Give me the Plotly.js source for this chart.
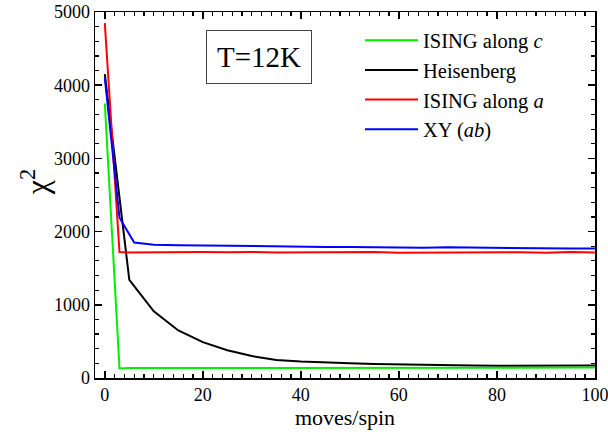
<!DOCTYPE html>
<html>
<head>
<meta charset="utf-8">
<script src="https://cdn.plot.ly/plotly-3.0.1.min.js"></script>
<style>html,body{margin:0;padding:0;background:#fff;}#chart{width:608px;height:436px;}</style>
</head>
<body>
<div id="chart"></div>
<script>
const isingCX = [0, 3, 5, 10, 15, 20, 25, 30, 35, 40, 45, 50, 55, 60, 65, 70, 75, 80, 85, 90, 95, 100];
const isingCY = [3750, 130, 135, 135, 138, 135, 138, 135, 140, 138, 135, 140, 138, 135, 138, 140, 138, 135, 138, 140, 138, 142];

const heisX = [0, 5, 10, 15, 20, 25, 30, 35, 40, 45, 50, 55, 60, 65, 70, 75, 80, 85, 90, 95, 100];
const heisY = [4150, 1340, 910, 650, 490, 380, 300, 245, 225, 210, 200, 192, 185, 180, 172, 170, 168, 168, 165, 168, 170];

const isingAX = [0, 3, 5, 10, 15, 20, 25, 30, 35, 40, 45, 50, 55, 60, 65, 70, 75, 80, 85, 90, 95, 100];
const isingAY = [4850, 1720, 1715, 1720, 1715, 1720, 1718, 1722, 1715, 1718, 1712, 1715, 1720, 1712, 1715, 1718, 1712, 1715, 1718, 1712, 1720, 1715];

const xyX = [0, 3, 6, 10, 15, 20, 25, 30, 35, 40, 45, 50, 55, 60, 65, 70, 75, 80, 85, 90, 95, 100];
const xyY = [4100, 2190, 1850, 1820, 1815, 1810, 1805, 1800, 1800, 1795, 1790, 1790, 1785, 1785, 1780, 1785, 1780, 1780, 1775, 1775, 1770, 1770];

const seriesNames = ['ISING along <i>c</i>', 'Heisenberg', 'ISING along <i>a</i>', 'XY (<i>ab</i>)'];
const seriesColors = ['#00ee00', '#000000', '#ff0000', '#0000ff'];
const xTickVals = [0, 20, 40, 60, 80, 100];
const yTickVals = [0, 1000, 2000, 3000, 4000, 5000];

const font = '"Liberation Serif", "Times New Roman", Times, serif';

const xs = [isingCX, heisX, isingAX, xyX];
const ys = [isingCY, heisY, isingAY, xyY];
const traces = xs.map((x, i) => ({
  x: x, y: ys[i], type: 'scatter', mode: 'lines', name: seriesNames[i],
  line: {color: seriesColors[i], width: 2}, legendrank: i + 1
}));
// draw blue on top of black as in reference
const data = [traces[1], traces[0], traces[2], traces[3]];

const axisCommon = {
  showgrid: false, zeroline: false, showline: true, linecolor: '#000', linewidth: 1.5,
  mirror: 'ticks', ticks: 'inside', ticklen: 7, tickwidth: 1.5, tickcolor: '#000',
  tickfont: {family: font, size: 18, color: '#000'}, ticklabeloverflow: 'allow'
};

const layout = {
  width: 608, height: 436,
  margin: {l: 95, r: 13, t: 12, b: 58},
  paper_bgcolor: '#fff', plot_bgcolor: '#fff',
  showlegend: true,
  legend: {
    x: 0.53, y: 0.977, xanchor: 'left', yanchor: 'top',
    font: {family: font, size: 20.5, color: '#000'},
    bgcolor: 'rgba(0,0,0,0)', borderwidth: 0, traceorder: 'normal',
    itemwidth: 53
  },
  xaxis: Object.assign({}, axisCommon, {
    range: [-2, 100.02], tickvals: xTickVals, ticktext: xTickVals.map(String),
    minor: {dtick: 2, ticks: 'inside', ticklen: 4, tickwidth: 1.2, tickcolor: '#000'},
    title: {text: 'moves/spin', font: {family: font, size: 22, color: '#000'}, standoff: 4}
  }),
  yaxis: Object.assign({}, axisCommon, {
    range: [0, 5000], tickvals: yTickVals, ticktext: yTickVals.map(String),
    minor: {dtick: 200, ticks: 'inside', ticklen: 4, tickwidth: 1.2, tickcolor: '#000'}
  }),
  annotations: [{
    xref: 'paper', yref: 'paper', x: 0.328, y: 0.876, xanchor: 'center', yanchor: 'middle',
    text: 'T=12K', showarrow: false, font: {family: font, size: 29, color: '#000'},
    bordercolor: '#444', borderwidth: 1, borderpad: 10, bgcolor: '#fff'
  }, {
    xref: 'paper', yref: 'paper', x: -0.12, y: 0.535, xanchor: 'center', yanchor: 'middle',
    text: 'χ<sup>2</sup>', textangle: -90, showarrow: false,
    font: {family: font, size: 32, color: '#000'}
  }]
};

Plotly.newPlot('chart', data, layout, {displayModeBar: false, staticPlot: true});
</script>
</body>
</html>
